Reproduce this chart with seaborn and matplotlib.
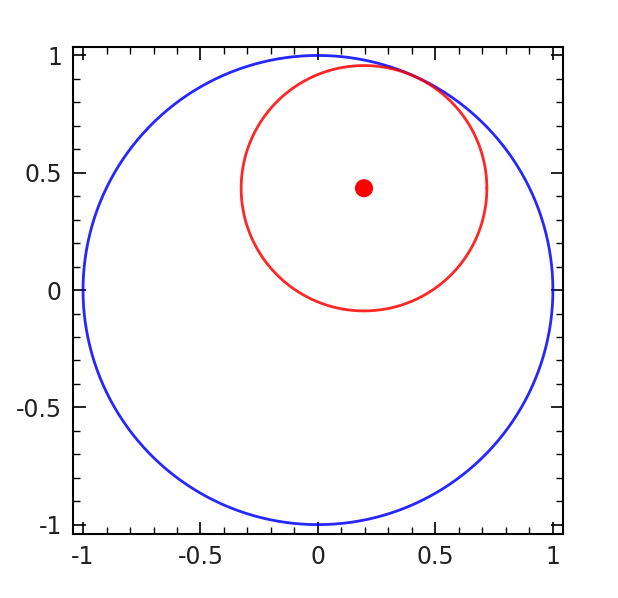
import matplotlib
matplotlib.use("Agg")
import matplotlib.pyplot as plt
from matplotlib.ticker import MultipleLocator
import numpy as np
import pandas as pd
import seaborn as sns

# circles: name, center x, center y, radius, color
names = ["unit", "inner"]
cx = [0.0, 0.196]
cy = [0.0, 0.434]
radius = [1.0, 0.523]
colors = ["#0000ff", "#ff0000"]

# centre point of the inner circle
dot_x = [0.196]
dot_y = [0.434]

ticks = [-1, -0.5, 0, 0.5, 1]
tick_labels = ["-1", "-0.5", "0", "0.5", "1"]

sns.set_style("white")
plt.rcParams["font.family"] = ["DejaVu Sans"]

fig = plt.figure(figsize=(6.18, 5.98), dpi=100)
ax = fig.add_axes([0.118, 0.107, 0.793, 0.814])

theta = np.linspace(0, 2 * np.pi, 721)
for n, x0, y0, r, c in zip(names, cx, cy, radius, colors):
    df = pd.DataFrame({"x": x0 + r * np.cos(theta), "y": y0 + r * np.sin(theta)})
    sns.lineplot(data=df, x="x", y="y", sort=False, estimator=None, errorbar=None,
                 color=c, lw=2.0, alpha=0.85, ax=ax)

sns.scatterplot(x=dot_x, y=dot_y, color="#ff0000", s=170, edgecolor="none", ax=ax, zorder=5)

ax.set_xlim(-1.043, 1.043)
ax.set_ylim(-1.04, 1.035)
ax.set_xticks(ticks)
ax.set_xticklabels(tick_labels)
ax.set_yticks(ticks)
ax.set_yticklabels(tick_labels)
ax.xaxis.set_minor_locator(MultipleLocator(0.1))
ax.yaxis.set_minor_locator(MultipleLocator(0.1))
ax.set_xlabel("")
ax.set_ylabel("")

for s in ax.spines.values():
    s.set_visible(True)
    s.set_color("black")
    s.set_linewidth(1.5)

ax.tick_params(which="both", direction="in", top=True, right=True, bottom=True, left=True,
               colors="black", labelcolor="#222222")
ax.tick_params(which="major", length=9, width=1.2, labelsize=17, pad=8)
ax.tick_params(which="minor", length=5, width=1.0)

fig.savefig("out.png", dpi=100, facecolor="white")
